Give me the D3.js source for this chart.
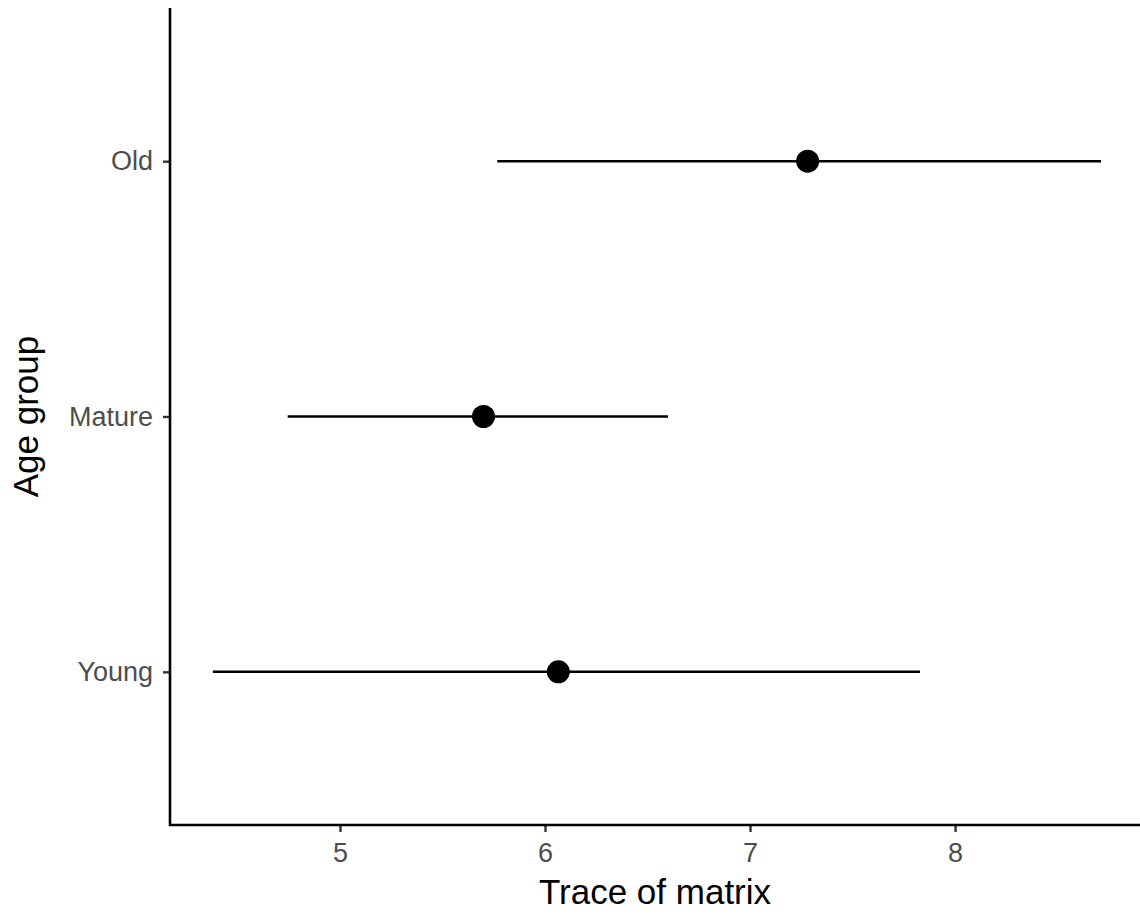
<!DOCTYPE html>
<html lang="en">
<head>
    <meta charset="UTF-8">
    <title>Trace of matrix</title>
    <script src="https://d3js.org/d3.v7.min.js"></script>
    <style>
        body { margin: 0; background: #fff; }
        text { font-family: "Liberation Sans", Arial, sans-serif; }
    </style>
</head>
<body>

    <svg width="1140" height="915"></svg>

<script>

    var groups = ['Young', 'Mature', 'Old'];
    var means  = [6.065, 5.70, 7.281];
    var lower  = [4.38, 4.745, 5.767];
    var upper  = [7.829, 6.60, 8.712];
    var xTicks = [5, 6, 7, 8];

    var svg = d3.select('svg');

    // panel edges
    var pLeft = 170, pRight = 1140, pTop = 8, pBottom = 825;

    var x = d3.scaleLinear().domain([4.171, 8.902]).range([pLeft, pRight]);
    var y = d3.scalePoint().domain(groups).range([pBottom, pTop]).padding(0.6);

    // error bars
    svg.selectAll('line.bar').data(groups).enter().append('line')
        .attr('class', 'bar')
        .attr('x1', function (d, i) { return x(lower[i]); })
        .attr('x2', function (d, i) { return x(upper[i]); })
        .attr('y1', function (d) { return y(d); })
        .attr('y2', function (d) { return y(d); })
        .attr('stroke', '#000')
        .attr('stroke-width', 2.6);

    // points
    svg.selectAll('circle').data(groups).enter().append('circle')
        .attr('cx', function (d, i) { return x(means[i]); })
        .attr('cy', function (d) { return y(d); })
        .attr('r', 11.5)
        .attr('fill', '#000');

    // axes
    var axisX = d3.axisBottom(x).tickValues(xTicks).tickSize(7).tickPadding(11).tickFormat(d3.format('d'));
    var axisY = d3.axisLeft(y).tickSize(7).tickPadding(10);

    var gx = svg.append('g').attr('transform', 'translate(0,' + pBottom + ')').call(axisX);
    var gy = svg.append('g').attr('transform', 'translate(' + pLeft + ',0)').call(axisY);

    [gx, gy].forEach(function (g) {
        g.select('.domain').remove();
        g.selectAll('.tick line').attr('stroke', '#333').attr('stroke-width', 2.4);
        g.selectAll('.tick text').attr('fill', '#4d4d4d')
            .style('font-size', '27px')
            .style('font-family', '"Liberation Sans", Arial, sans-serif');
    });

    // axis lines (L shape)
    svg.append('path')
        .attr('d', 'M' + pLeft + ',' + pTop + 'V' + pBottom + 'H' + pRight)
        .attr('fill', 'none')
        .attr('stroke', '#000')
        .attr('stroke-width', 2.6);

    // titles
    svg.append('text')
        .attr('x', (pLeft + pRight) / 2)
        .attr('y', 904)
        .attr('text-anchor', 'middle')
        .style('font-size', '35px')
        .text('Trace of matrix');

    svg.append('text')
        .attr('transform', 'translate(38,' + ((pTop + pBottom) / 2) + ') rotate(-90)')
        .attr('text-anchor', 'middle')
        .style('font-size', '35px')
        .text('Age group');

</script>
</body>
</html>
